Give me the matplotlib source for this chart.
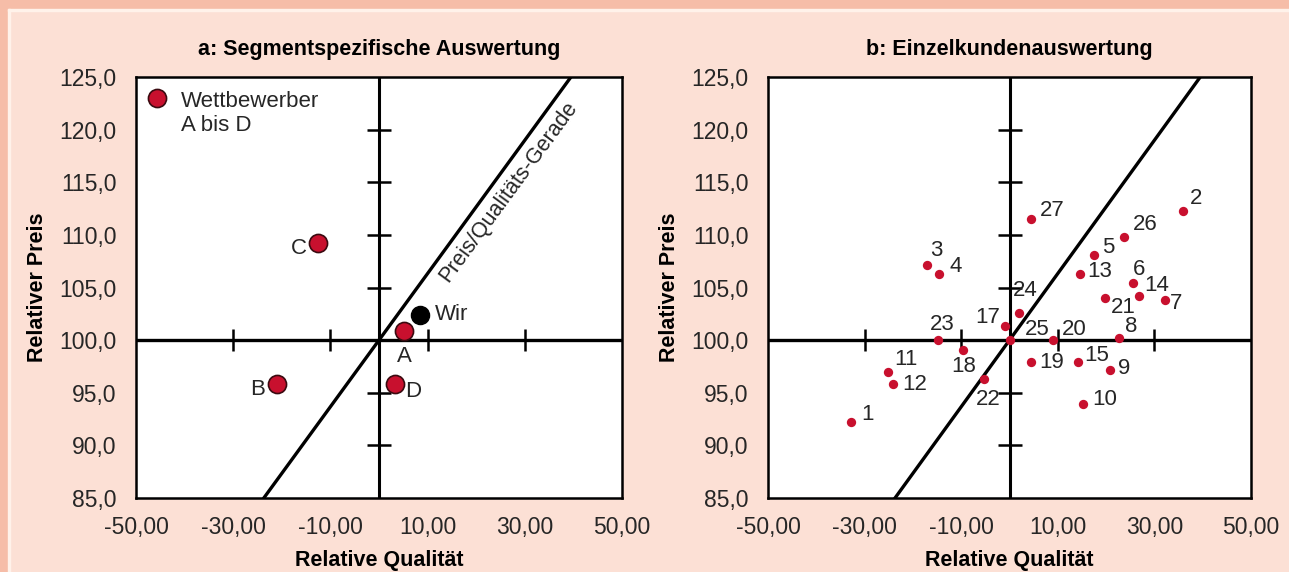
import matplotlib
matplotlib.use("Agg")
import matplotlib.pyplot as plt
from matplotlib.patches import Rectangle

# panel a: competitors A-D and "Wir"
comp_names = ["A", "B", "C", "D"]
comp_qual = [5.2, -21.0, -12.5, 3.2]
comp_price = [100.9, 95.8, 109.2, 95.8]
wir_qual, wir_price = 8.5, 102.4

# panel b: single customers 1..27 (16 sits under 25, not visible)
cust_ids = [str(i) for i in range(1, 28)]
cust_qual = [-32.9, 36.0, -17.0, -14.5, 17.5, 25.5, 32.2, 22.7, 20.9, 15.2,
             -25.1, -24.1, 14.5, 26.8, 14.1, 0.0, -1.0, -9.6, 4.4, 9.1,
             19.8, -5.2, -14.9, 1.9, 0.0, 23.7, 4.5]
cust_price = [92.2, 112.3, 107.1, 106.3, 108.1, 105.4, 103.8, 100.2, 97.2, 93.9,
              97.0, 95.8, 106.3, 104.2, 97.9, None, 101.3, 99.1, 97.9, 100.0,
              104.0, 96.3, 100.0, 102.6, 100.0, 109.8, 111.5]

# price/quality line y = 100 + slope * x
line_slope = 0.633
line_x = [-24.0, 40.0]

x_ticks = [-50, -30, -10, 10, 30, 50]
y_ticks = [85, 90, 95, 100, 105, 110, 115, 120, 125]
cross_xticks = [-30, -10, 10, 30]
cross_yticks = [90, 95, 105, 110, 115, 120]

# label offsets in pixels (dx, dy)
comp_off = {"A": (0, -26), "B": (-19, -5), "C": (-19, -5), "D": (19, -7)}
cust_off = {"1": (17, 8), "2": (13, 12), "3": (9, 15), "4": (16, 7), "5": (14, 7),
            "6": (6, 14), "7": (11, -3), "8": (12, 12), "9": (14, 1), "10": (22, 5),
            "11": (18, 12), "12": (22, 0), "13": (20, 2), "14": (18, 10),
            "15": (19, 7), "17": (-17, 9), "18": (1, -17), "19": (21, 0),
            "20": (21, 11), "21": (18, -9), "22": (4, -20), "23": (5, 16),
            "24": (7, 22), "25": (28, 11), "26": (21, 12), "27": (21, 9)}

RED = "#C8102E"
BG = "#FCE0D5"
BAND = "#F6BDA8"
TXT = "#262626"

plt.rcParams["font.family"] = ["Liberation Sans", "DejaVu Sans"]

fig = plt.figure(figsize=(12.89, 5.72), dpi=100, facecolor=BG)
W, H = 1289, 572
fig.patches.append(Rectangle((0, 1 - 9 / H), 1, 9 / H, transform=fig.transFigure,
                             color=BAND, zorder=0))
fig.patches.append(Rectangle((0, 0), 8 / W, 1, transform=fig.transFigure,
                             color=BAND, zorder=0))
fig.patches.append(Rectangle((8 / W, 0), 2 / W, 1 - 9 / H, transform=fig.transFigure,
                             color="#FFF2EA", zorder=0))
fig.patches.append(Rectangle((8 / W, 1 - 11 / H), 1, 2 / H, transform=fig.transFigure,
                             color="#FFF2EA", zorder=0))

ax_a = fig.add_axes([136 / W, 1 - 498 / H, 486 / W, 421 / H])
ax_b = fig.add_axes([768 / W, 1 - 498 / H, 483 / W, 421 / H])


def base(ax, title):
    ax.set_xlim(-50, 50)
    ax.set_ylim(85, 125)
    ax.set_xticks(x_ticks)
    ax.set_yticks(y_ticks)
    ax.set_xticklabels([f"{v:.2f}".replace(".", ",") for v in x_ticks])
    ax.set_yticklabels([f"{v:.1f}".replace(".", ",") for v in y_ticks])
    ax.tick_params(length=0, labelsize=16.5, colors=TXT)
    ax.tick_params(axis="x", pad=13)
    ax.tick_params(axis="y", pad=14)
    for s in ax.spines.values():
        s.set_linewidth(1.8)
    ax.axhline(100, color="black", lw=2.4, zorder=2)
    ax.axvline(0, color="black", lw=2.2, zorder=2)
    ax.plot(cross_xticks, [100] * len(cross_xticks), ls="none", marker="|",
            ms=16, mew=1.8, color="black", zorder=2)
    ax.plot([0] * len(cross_yticks), cross_yticks, ls="none", marker="_",
            ms=17, mew=1.8, color="black", zorder=2)
    ax.plot(line_x, [100 + line_slope * v for v in line_x], color="black",
            lw=2.4, zorder=2, solid_capstyle="butt")
    ax.set_title(title, fontsize=15.5, fontweight="bold", pad=16, color="black")
    ax.set_xlabel("Relative Qualität", fontsize=15.5, fontweight="bold", labelpad=8)
    ax.set_ylabel("Relativer Preis", fontsize=15.5, fontweight="bold", labelpad=8)


base(ax_a, "a: Segmentspezifische Auswertung")
base(ax_b, "b: Einzelkundenauswertung")

# panel a
ax_a.scatter(comp_qual, comp_price, s=170, color=RED, edgecolor="#3a0a10",
             linewidth=1.2, zorder=4)
for n, q, p in zip(comp_names, comp_qual, comp_price):
    ax_a.annotate(n, (q, p), xytext=comp_off[n], textcoords="offset pixels",
                  ha="center", va="center", fontsize=16, color=TXT)
ax_a.scatter([wir_qual], [wir_price], s=170, color="black", zorder=4)
ax_a.annotate("Wir", (wir_qual, wir_price), xytext=(31, 0), textcoords="offset pixels",
              ha="center", va="center", fontsize=16, color=TXT)
ax_a.scatter([-45.7], [123.0], s=170, color=RED, edgecolor="#3a0a10",
             linewidth=1.2, zorder=4)
ax_a.text(-40.7, 121.5, "Wettbewerber\nA bis D", ha="left", va="center",
          fontsize=16, color=TXT, linespacing=1.2)
ax_a.text(26.7, 114.1, "Preis/Qualitäts-Gerade", rotation=53.7, ha="center",
          va="center", fontsize=15.5, color=TXT, rotation_mode="anchor")

# panel b
for cid, q, p in zip(cust_ids, cust_qual, cust_price):
    if p is None:
        continue
    ax_b.scatter([q], [p], s=45, color=RED, zorder=4, linewidth=0)
    dx, dy = cust_off[cid]
    ax_b.annotate(cid, (q, p), xytext=(dx, dy), textcoords="offset pixels",
                  ha="center", va="center", fontsize=16, color=TXT)

fig.savefig("out.png", dpi=100, facecolor=BG)
